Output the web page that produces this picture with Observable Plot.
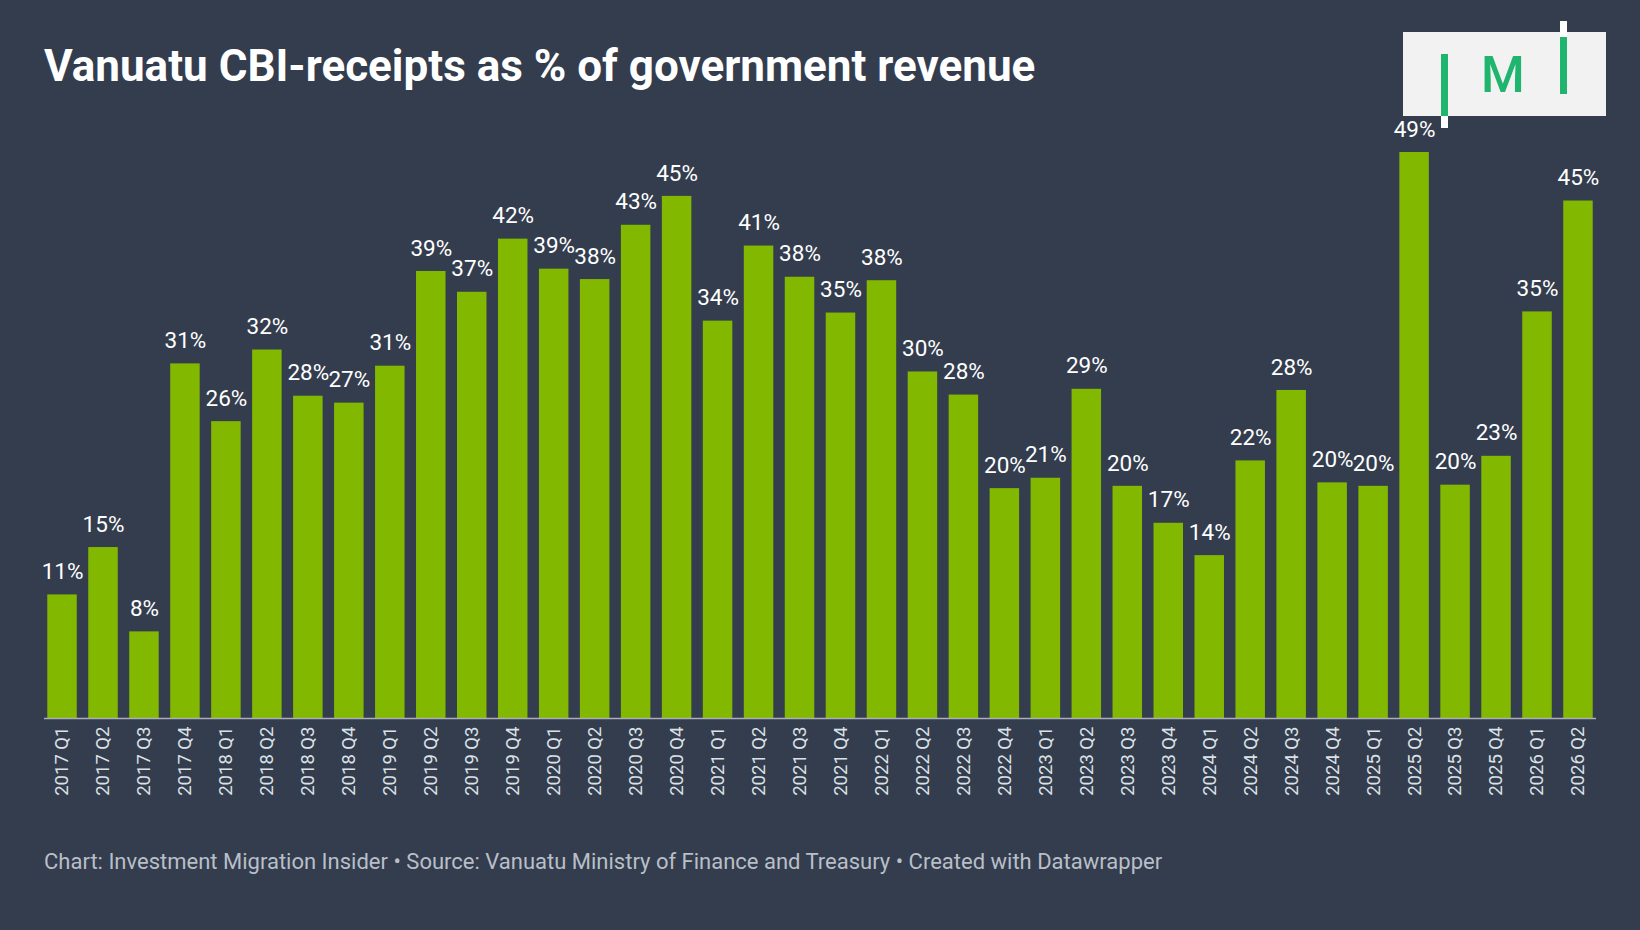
<!DOCTYPE html>
<html><head><meta charset="utf-8">
<script src="https://cdn.jsdelivr.net/npm/d3@7"></script>
<script src="https://cdn.jsdelivr.net/npm/@observablehq/plot@0.6"></script>
<style>
body{margin:0;background:#333d4e;font-family:Roboto,sans-serif;width:1640px;height:930px;overflow:hidden;position:relative}
#title{position:absolute;left:44px;top:40px;color:#fff;font-size:44px;font-weight:700}
#foot{position:absolute;left:44px;top:849px;color:#b9bfc8;font-size:22px}
#chart{position:absolute;left:0;top:0}
#logo{position:absolute;left:1403px;top:32px;width:203px;height:84px;background:#f2f2f2}
.g{position:absolute;background:#1fb56e;width:7px}
</style></head><body>
<div id="chart"></div>
<div id="title">Vanuatu CBI-receipts as % of government revenue</div>
<div id="logo">
<div class="g" style="left:38px;top:22px;height:62px"></div>
<div style="position:absolute;left:38px;top:84px;width:7px;height:12px;background:#fff"></div>
<div style="position:absolute;left:78px;top:18px;font-size:50px;font-weight:500;line-height:50px;color:#1fb56e">M</div>
<div class="g" style="left:157px;top:5px;height:57px"></div>
<div style="position:absolute;left:157px;top:-11px;width:7px;height:16px;background:#fff"></div>
</div>
<div id="foot">Chart: Investment Migration Insider • Source: Vanuatu Ministry of Finance and Treasury • Created with Datawrapper</div>
<script>
const quarters=["2017 Q1","2017 Q2","2017 Q3","2017 Q4","2018 Q1","2018 Q2","2018 Q3","2018 Q4","2019 Q1","2019 Q2","2019 Q3","2019 Q4","2020 Q1","2020 Q2","2020 Q3","2020 Q4","2021 Q1","2021 Q2","2021 Q3","2021 Q4","2022 Q1","2022 Q2","2022 Q3","2022 Q4","2023 Q1","2023 Q2","2023 Q3","2023 Q4","2024 Q1","2024 Q2","2024 Q3","2024 Q4","2025 Q1","2025 Q2","2025 Q3","2025 Q4","2026 Q1","2026 Q2"];
const values=[10.7,14.8,7.5,30.7,25.7,31.9,27.9,27.3,30.5,38.7,36.9,41.5,38.9,38.0,42.7,45.2,34.4,40.9,38.2,35.1,37.9,30.0,28.0,19.9,20.8,28.5,20.1,16.9,14.1,22.3,28.4,20.4,20.1,49.0,20.2,22.7,35.2,44.8];
const data=quarters.map((q,i)=>({q,v:values[i]}));
const chart=Plot.plot({
  width:1640,height:820,marginTop:152,marginBottom:102,marginLeft:44,marginRight:44,
  style:{background:"transparent",color:"#dde1e6",fontFamily:"Roboto, sans-serif",fontSize:"18.5px"},
  x:{domain:quarters,padding:0.28,paddingOuter:0.08,label:null,tickSize:0,tickRotate:-90,tickPadding:8},
  y:{domain:[0,49],axis:null},
  marks:[
    Plot.barY(data,{x:"q",y:"v",fill:"#82b800"}),
    Plot.ruleY([0],{stroke:"#aab0b8",strokeWidth:1.5}),
    Plot.text(data,{x:"q",y:"v",text:d=>Math.round(d.v)+"%",dy:-23,fill:"#fff",fontSize:22.5})
  ]
});
document.getElementById("chart").append(chart);
</script>
</body></html>
